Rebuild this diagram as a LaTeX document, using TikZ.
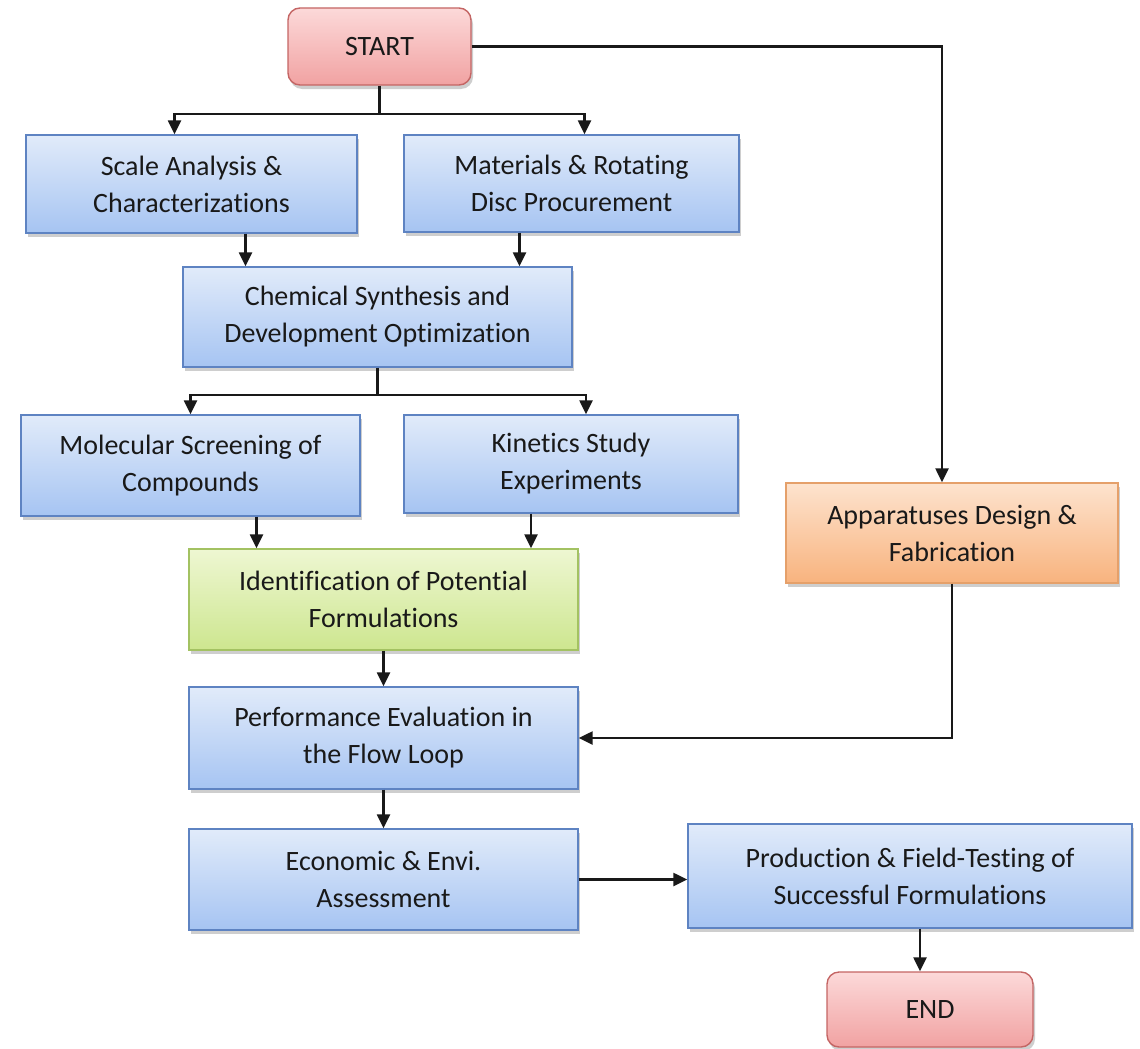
\documentclass[tikz,border=0pt]{standalone}
\usepackage{fontspec}
\setmainfont{Carlito}[Ligatures=NoCommon]
\usetikzlibrary{positioning,shadows,arrows.meta}

\definecolor{blueTop}{HTML}{E1EBFA}
\definecolor{blueBot}{HTML}{A6C4F2}
\definecolor{blueLine}{HTML}{5E83C2}
\definecolor{greenTop}{HTML}{EEF7D2}
\definecolor{greenBot}{HTML}{CDE68F}
\definecolor{greenLine}{HTML}{A3C262}
\definecolor{orangeTop}{HTML}{FDE3CE}
\definecolor{orangeBot}{HTML}{F8B37E}
\definecolor{orangeLine}{HTML}{E5A06A}
\definecolor{redTop}{HTML}{FCD9D9}
\definecolor{redBot}{HTML}{F1A2A2}
\definecolor{redLine}{HTML}{C46564}

\begin{document}
\begin{tikzpicture}[
			x=1pt,y=-1pt,
			every node/.style={font=\fontsize{28}{37}\selectfont,text=black!90},
			box/.style={rectangle,align=center,inner sep=0,line width=1.4pt,
				drop shadow={shadow xshift=2pt,shadow yshift=-4pt,opacity=0.35,fill=black!55}},
			bluebox/.style={box,draw=blueLine,top color=blueTop,bottom color=blueBot},
			greenbox/.style={box,draw=greenLine,top color=greenTop,bottom color=greenBot},
			orangebox/.style={box,draw=orangeLine,top color=orangeTop,bottom color=orangeBot},
			termbox/.style={box,rounded corners=12pt,draw=redLine,top color=redTop,bottom color=redBot},
			line/.style={draw,line width=2.4pt,black!90},
			arr/.style={line,-{Triangle[length=14pt,width=13pt]}}
		]
		\useasboundingbox (0,0) rectangle (1140,1049);
		\node[termbox,minimum width=183,minimum height=77]    (start) at (379.5,46.5) {START};
		\node[bluebox,minimum width=331,minimum height=98]    (scale) at (191.5,184)  {Scale Analysis \&\\Characterizations};
		\node[bluebox,minimum width=335,minimum height=97]    (mat)   at (571.5,183.5){Materials \& Rotating\\Disc Procurement};
		\node[bluebox,minimum width=389,minimum height=100]   (chem)  at (377.5,317)  {Chemical Synthesis and\\Development Optimization};
		\node[bluebox,minimum width=339,minimum height=101]   (mol)   at (190.5,465.5){Molecular Screening of\\Compounds};
		\node[bluebox,minimum width=334,minimum height=98]    (kin)   at (571,464)    {Kinetics Study\\Experiments};
		\node[orangebox,minimum width=332,minimum height=100] (app)   at (952,533)    {Apparatuses Design \&\\Fabrication};
		\node[greenbox,minimum width=389,minimum height=101]  (ident) at (383.5,599.5){Identification of Potential\\Formulations};
		\node[bluebox,minimum width=389,minimum height=102]   (perf)  at (383.5,738)  {Performance Evaluation in\\the Flow Loop};
		\node[bluebox,minimum width=389,minimum height=101]   (eco)   at (383.5,879.5){Economic \& Envi.\\Assessment};
		\node[bluebox,minimum width=444,minimum height=104]   (prod)  at (910,876)    {Production \& Field-Testing of\\Successful Formulations};
		\node[termbox,minimum width=206,minimum height=75]    (end)   at (930,1009.5) {END};
		% start branches
		\draw[line] (start.south) -- ++(0,28) coordinate (sj);
		\draw[arr] (sj) -| ([xshift=-17pt]scale.north);
		\draw[arr] (sj) -| ([xshift=13pt]mat.north);
		\draw[arr] (start.east) -| ([xshift=-10pt]app.north);
		\draw[arr] ([xshift=54pt]scale.south) -- ([xshift=54pt]scale.south |- chem.north);
		\draw[arr] ([xshift=-52pt]mat.south) -- ([xshift=-52pt]mat.south |- chem.north);
		% synthesis branches
		\draw[line] (chem.south) -- ++(0,27) coordinate (cj);
		\draw[arr] (cj) -| (mol.north);
		\draw[arr] (cj) -| ([xshift=15pt]kin.north);
		\draw[arr] ([xshift=66pt]mol.south) -- ([xshift=66pt]mol.south |- ident.north);
		\draw[arr] ([xshift=-40pt]kin.south) -- ([xshift=-40pt]kin.south |- ident.north);
		\draw[arr] (ident) -- (perf);
		\draw[arr] (app.south) |- (perf.east);
		\draw[arr] (perf) -- (eco);
		\draw[arr] (eco.east) -- (eco.east -| prod.west);
		\draw[arr] ([xshift=-10pt]end.north |- prod.south) -- ([xshift=-10pt]end.north);
	\end{tikzpicture}
\end{document}
